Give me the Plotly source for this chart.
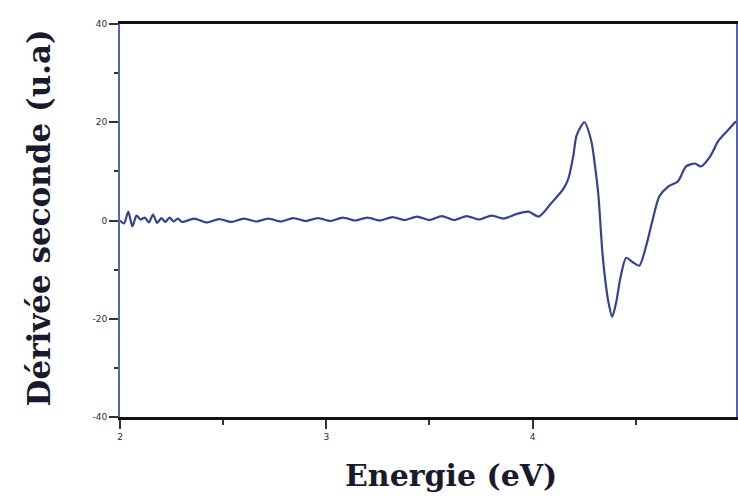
import plotly.graph_objects as go

# Second-derivative spectrum: energy (eV) vs. d2 signal (arbitrary units)
energy = [
    2.00, 2.02, 2.04, 2.06, 2.08, 2.10, 2.12, 2.14, 2.16, 2.18, 2.20, 2.22, 2.24, 2.26, 2.28,
    2.30, 2.36, 2.42, 2.48, 2.54, 2.60, 2.66, 2.72, 2.78, 2.84, 2.90, 2.96, 3.02, 3.08,
    3.14, 3.20, 3.26, 3.32, 3.38, 3.44, 3.50, 3.56, 3.62, 3.68, 3.74, 3.80, 3.86, 3.92,
    3.98, 4.03, 4.09, 4.15, 4.174, 4.198, 4.213, 4.251, 4.285, 4.304, 4.319, 4.338,
    4.353, 4.367, 4.386, 4.406, 4.425, 4.454, 4.483, 4.517, 4.551, 4.580, 4.614,
    4.657, 4.705, 4.744, 4.787, 4.816, 4.860, 4.899, 4.947, 4.986,
]
deriv = [
    0.0, -0.6, 1.8, -1.2, 1.0, 0.2, 0.6, -0.4, 1.2, -0.5, 0.5, -0.3, 0.6, -0.2, 0.4,
    -0.3, 0.4, -0.4, 0.3, -0.3, 0.4, -0.2, 0.4, -0.2, 0.5, -0.1, 0.5, -0.1, 0.6,
    0.0, 0.6, 0.0, 0.7, 0.1, 0.8, 0.1, 0.9, 0.1, 0.9, 0.2, 1.0, 0.4, 1.3,
    1.8, 0.8, 3.5, 6.5, 8.6, 13.3, 17.3, 20.0, 16.1, 10.6, 5.1, -6.3,
    -12.4, -16.5, -19.6, -16.5, -11.8, -7.6, -8.4, -9.2, -5.1, -0.2, 4.9,
    6.9, 8.0, 11.0, 11.6, 11.0, 13.0, 16.1, 18.4, 20.2,
]

y_ticks = [-40, -20, 0, 20, 40]
y_tick_text = ["-40", "-20", "0", "20", "40"]
x_ticks = [2, 3, 4, 5]
x_tick_text = ["2", "3", "4", "5"]

x_title = "Energie (eV)"
y_title = "Dérivée seconde (u.a)"

fig = go.Figure()
fig.add_trace(go.Scatter(
    x=energy, y=deriv, mode="lines",
    line=dict(color="#34438f", width=2.2, shape="spline", smoothing=0.7),
    showlegend=False,
))

title_color = "#1a1a2e"
tick_font = dict(family="DejaVu Sans", size=9, color="#2a2a40")

fig.update_layout(
    width=738, height=497,
    margin=dict(l=120, r=0, t=24, b=80),
    paper_bgcolor="white", plot_bgcolor="white",
    xaxis=dict(
        range=[2, 4.986], tickvals=x_ticks, ticktext=x_tick_text,
        ticks="outside", ticklen=9, tickwidth=1.5, tickcolor="#333",
        minor=dict(dtick=0.5, ticks="outside", ticklen=5, tickcolor="#333"),
        showline=True, linecolor="#111", linewidth=2.5, mirror=True,
        showgrid=False, zeroline=False, tickfont=tick_font,
    ),
    yaxis=dict(
        range=[-40, 40], tickvals=y_ticks, ticktext=y_tick_text,
        ticks="outside", ticklen=9, tickwidth=1.5, tickcolor="#333",
        minor=dict(dtick=10, ticks="outside", ticklen=4, tickcolor="#333"),
        showline=True, linecolor="#5565b0", linewidth=2, mirror=True,
        showgrid=False, zeroline=False, tickfont=tick_font,
    ),
    annotations=[
        dict(text=f"<b>{x_title}</b>", xref="paper", yref="paper",
             x=0.537, y=-0.148, xanchor="center", yanchor="middle",
             showarrow=False,
             font=dict(family="DejaVu Serif", size=30, color=title_color)),
        dict(text=f"<b>{y_title}</b>", xref="paper", yref="paper",
             x=-0.131, y=0.506, xanchor="center", yanchor="middle",
             textangle=-90, showarrow=False,
             font=dict(family="DejaVu Serif", size=31, color=title_color)),
    ],
)

fig.write_html("out.html")
